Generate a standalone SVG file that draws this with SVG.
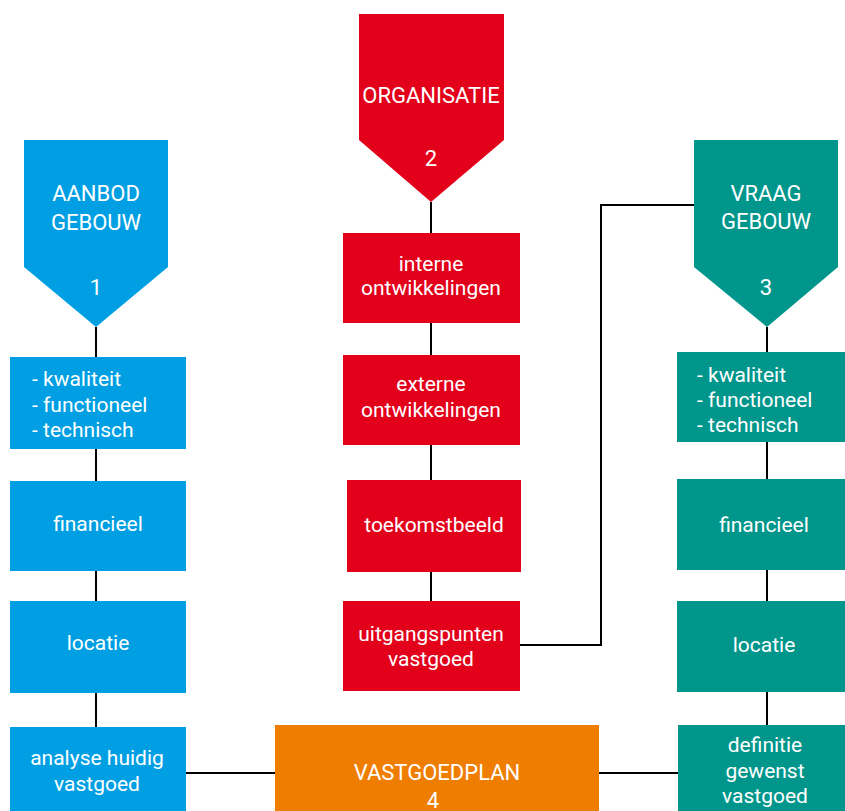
<svg xmlns="http://www.w3.org/2000/svg" width="845" height="811" viewBox="0 0 845 811">
<style>
.b{fill:#009FE3}.r{fill:#E2001A}.t{fill:#00968C}.o{fill:#EF7D00}
text{font-family:Roboto,"Liberation Sans",sans-serif;fill:#fff;font-size:21px;text-anchor:middle}
.h{font-size:22px}
.l{text-anchor:start}
.c line,.c polyline{stroke:#000;stroke-width:2;fill:none}
</style>
<rect width="845" height="811" fill="#fff"/>
<g class="c" id="connectors">
<line x1="96" y1="327" x2="96" y2="357"/>
<line x1="96" y1="449" x2="96" y2="481"/>
<line x1="96" y1="571" x2="96" y2="601"/>
<line x1="96" y1="693" x2="96" y2="727"/>
<line x1="431" y1="202" x2="431" y2="233"/>
<line x1="431" y1="323" x2="431" y2="355"/>
<line x1="431" y1="445" x2="431" y2="480"/>
<line x1="431" y1="572" x2="431" y2="601"/>
<line x1="767" y1="327" x2="767" y2="352"/>
<line x1="767" y1="442" x2="767" y2="479"/>
<line x1="767" y1="570" x2="767" y2="601"/>
<line x1="767" y1="692" x2="767" y2="725"/>
<polyline points="520,645 601,645 601,205 694,205"/>
<line x1="186" y1="773" x2="275" y2="773"/>
<line x1="599" y1="773" x2="678" y2="773"/>
</g>
<g id="aanbod">
<polygon class="b" points="24,140 168,140 168,267 96,327 24,267"/>
<text class="h" x="96" y="201">AANBOD</text>
<text class="h" x="96" y="230">GEBOUW</text>
<text class="h" x="96" y="295">1</text>
</g>
<g id="b1"><rect class="b" x="10" y="357" width="176" height="92"/>
<text class="l" x="32" y="386">- kwaliteit</text>
<text class="l" x="32" y="412">- functioneel</text>
<text class="l" x="32" y="437">- technisch</text></g>
<g id="b2"><rect class="b" x="10" y="481" width="176" height="90"/><text x="98" y="531">financieel</text></g>
<g id="b3"><rect class="b" x="10" y="601" width="176" height="92"/><text x="98" y="650">locatie</text></g>
<g id="b4"><rect class="b" x="10" y="727" width="176" height="90"/><text x="97" y="765">analyse huidig</text><text x="97" y="791">vastgoed</text></g>
<g id="organisatie">
<polygon class="r" points="359,14 504,14 504,140 431,202 359,140"/>
<text class="h" x="431" y="103">ORGANISATIE</text>
<text class="h" x="431" y="166">2</text>
</g>
<g id="r1"><rect class="r" x="343" y="233" width="177" height="90"/><text x="431" y="271">interne</text><text x="431" y="295">ontwikkelingen</text></g>
<g id="r2"><rect class="r" x="343" y="355" width="177" height="90"/><text x="431" y="391">externe</text><text x="431" y="417">ontwikkelingen</text></g>
<g id="r3"><rect class="r" x="347" y="480" width="174" height="92"/><text x="434" y="532">toekomstbeeld</text></g>
<g id="r4"><rect class="r" x="343" y="601" width="177" height="90"/><text x="431" y="641">uitgangspunten</text><text x="431" y="666">vastgoed</text></g>
<g id="vraag">
<polygon class="t" points="694,140 838,140 838,267 767,327 694,267"/>
<text class="h" x="766" y="201">VRAAG</text>
<text class="h" x="766" y="229">GEBOUW</text>
<text class="h" x="766" y="295">3</text>
</g>
<g id="t1"><rect class="t" x="677" y="352" width="168" height="90"/>
<text class="l" x="697" y="382">- kwaliteit</text>
<text class="l" x="697" y="407">- functioneel</text>
<text class="l" x="697" y="432">- technisch</text></g>
<g id="t2"><rect class="t" x="677" y="479" width="168" height="91"/><text x="764" y="532">financieel</text></g>
<g id="t3"><rect class="t" x="677" y="601" width="168" height="91"/><text x="764" y="652">locatie</text></g>
<g id="t4"><rect class="t" x="678" y="725" width="167" height="90"/><text x="765" y="752">definitie</text><text x="765" y="778">gewenst</text><text x="765" y="803">vastgoed</text></g>
<g id="vastgoedplan"><rect class="o" x="275" y="725" width="324" height="90"/>
<text class="h" x="437" y="780">VASTGOEDPLAN</text>
<text class="h" x="433" y="808">4</text></g>
</svg>
